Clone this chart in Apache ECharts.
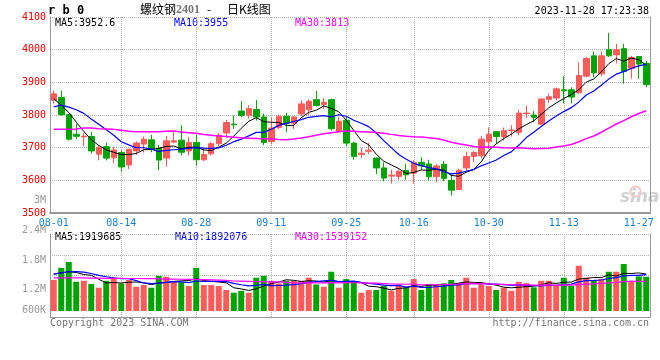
<!DOCTYPE html>
<html><head><meta charset="utf-8">
<script src="https://cdn.jsdelivr.net/npm/echarts@6/dist/echarts.min.js"></script>
<style>html,body{margin:0;padding:0;background:#fff}#c{width:660px;height:360px}</style>
</head><body><div id="c"></div>
<script>
const dates = ['08-01','08-02','08-03','08-04','08-07','08-08','08-09','08-10','08-11','08-14','08-15','08-16','08-17','08-18','08-21','08-22','08-23','08-24','08-25','08-28','08-29','08-30','08-31',
'09-01','09-04','09-05','09-06','09-07','09-08','09-11','09-12','09-13','09-14','09-15','09-18','09-19','09-20','09-21','09-22','09-25','09-26','09-27','09-28',
'10-09','10-10','10-11','10-12','10-13','10-16','10-17','10-18','10-19','10-20','10-23','10-24','10-25','10-26','10-27','10-30','10-31',
'11-01','11-02','11-03','11-06','11-07','11-08','11-09','11-10','11-13','11-14','11-15','11-16','11-17','11-20','11-21','11-22','11-23','11-24','11-27','11-28'];

const opens  = [3845,3854,3801,3741,3733,3734,3680,3703,3669,3685,3647,3690,3711,3724,3698,3668,3717,3723,3690,3716,3663,3681,3712,3745,3772,3812,3799,3817,3794,3719,3762,3796,3775,3803,3816,3847,3832,3847,3750,3784,3714,3679,3689,3668,3638,3613,3612,3630,3622,3655,3650,3611,3649,3600,3572,3638,3673,3675,3718,3749,3734,3752,3747,3804,3800,3772,3848,3852,3877,3877,3868,3919,3981,3926,4000,3984,4003,3943,3979,3958];
const closes = [3865,3801,3726,3735,3735,3690,3700,3668,3693,3641,3695,3714,3726,3695,3662,3721,3721,3686,3716,3663,3679,3712,3738,3777,3770,3799,3820,3794,3716,3760,3796,3775,3794,3834,3842,3829,3839,3758,3781,3714,3673,3683,3692,3638,3607,3616,3627,3617,3654,3644,3611,3644,3606,3570,3631,3673,3685,3726,3741,3734,3752,3754,3806,3806,3793,3849,3856,3880,3874,3855,3921,3973,3929,3981,3981,4000,3933,3976,3956,3893];
const highs  = [3875,3874,3803,3773,3745,3748,3708,3715,3702,3692,3697,3719,3734,3739,3708,3736,3754,3768,3733,3740,3700,3718,3745,3785,3799,3843,3830,3846,3804,3792,3802,3806,3796,3845,3848,3874,3852,3850,3794,3794,3716,3699,3714,3670,3655,3633,3633,3650,3662,3670,3663,3650,3659,3618,3636,3688,3690,3735,3762,3750,3762,3769,3816,3829,3812,3852,3865,3884,3918,3885,3961,3978,3994,3994,4051,4018,4018,3981,3981,3966];
const lows   = [3835,3798,3722,3727,3705,3682,3661,3661,3652,3628,3635,3678,3685,3686,3632,3642,3713,3676,3677,3646,3659,3676,3705,3730,3757,3794,3789,3783,3708,3710,3757,3747,3757,3797,3801,3826,3818,3753,3747,3704,3663,3668,3681,3619,3597,3590,3602,3602,3590,3632,3600,3594,3598,3554,3570,3628,3656,3667,3695,3711,3721,3734,3738,3790,3778,3768,3837,3845,3836,3836,3865,3916,3916,3918,3978,3958,3896,3911,3911,3885];

const ma5  = [3850,3830,3808,3778,3750,3724,3707,3693,3686,3678.4,3679.4,3682.2,3693.8,3694.2,3698.4,3703.6,3705,3697,3701.2,3701.4,3693,3691.2,3701.6,3713.8,3735.2,3759.2,3780.8,3792,3779.8,3777.8,3777.2,3768.2,3768.2,3791.8,3808.2,3814.8,3827.6,3820.4,3809.8,3784.2,3753,3721.8,3708.6,3680,3658.6,3647.2,3636,3621,3624.2,3631.6,3630.6,3634,3631.8,3615,3612.4,3624.8,3633,3657,3691.2,3711.8,3727.6,3741.4,3757.4,3770.4,3782.2,3801.6,3822,3836.8,3850.4,3862.8,3877.2,3900.6,3910.4,3931.8,3957,3972.8,3964.8,3974.2,3969.2,3952.6];
const ma10 = [3825,3830,3824,3816,3805,3788,3772,3755,3738,3718,3708.4,3699.7,3699.7,3695.7,3688.4,3691.5,3693.6,3695.4,3697.7,3699.9,3698.3,3698.1,3699.3,3707.5,3718.3,3726.1,3736,3746.8,3746.8,3756.5,3768.2,3774.5,3780.1,3785.8,3793,3796,3797.9,3794.3,3800.8,3796.2,3783.9,3774.7,3764.5,3744.9,3721.4,3700.1,3678.9,3664.8,3652.1,3645.1,3638.9,3635,3626.4,3619.6,3622,3627.7,3633.5,3644.4,3653.1,3662.1,3676.2,3687.2,3707.2,3730.8,3747,3764.6,3781.7,3797.1,3810.4,3822.5,3839.4,3861.3,3873.6,3891.1,3909.9,3925,3932.7,3942.3,3950.5,3955];
const ma30 = [3756,3756,3756,3757,3760,3760,3758,3757,3756,3753,3750,3749,3749,3749,3749,3750,3751,3748,3746,3744,3740,3738,3736,3734,3732,3730,3729,3728,3727,3727.3,3725,3724.1,3726.4,3729.7,3733.2,3737.9,3742.5,3745.5,3748.4,3750.9,3750.1,3749.1,3748,3746.1,3744.2,3740.7,3737.6,3735.3,3733.2,3732.6,3730.3,3728.1,3723.7,3716.8,3712.1,3707.9,3703.4,3701.2,3702,3701.1,3699.7,3699,3699.4,3698.4,3696.8,3697.5,3698,3702.1,3705.2,3709.9,3718.2,3727.8,3735.7,3747.2,3759.6,3772.4,3782.6,3794.6,3804.7,3813];

const volumes = [1610000,2240000,2550000,1520000,1570000,1400000,1210000,1570000,1660000,1430000,1610000,1260000,1350000,1210000,1830000,1780000,1520000,1490000,1300000,2240000,1350000,1350000,1300000,1090000,950000,1050000,950000,1730000,1830000,1570000,1430000,1570000,1560000,1560000,1730000,1380000,1260000,2040000,1210000,1660000,1520000,950000,1090000,1090000,1300000,1050000,1350000,1230000,1660000,1090000,1400000,1350000,1430000,1610000,1450000,1730000,1210000,1380000,1300000,1090000,1210000,1050000,1520000,1450000,1230000,1570000,1570000,1350000,1730000,1300000,2350000,1730000,1610000,1660000,2040000,2040000,2440000,1570000,1800000,1780000];
const vma5  = [1920000,1980000,2040000,2000000,1898000,1856000,1650000,1454000,1482000,1454000,1496000,1506000,1462000,1372000,1452000,1486000,1538000,1566000,1584000,1666000,1580000,1546000,1508000,1466000,1208000,1148000,1068000,1154000,1302000,1426000,1502000,1626000,1592000,1538000,1570000,1560000,1498000,1594000,1524000,1510000,1538000,1476000,1286000,1262000,1190000,1096000,1176000,1204000,1318000,1276000,1346000,1346000,1386000,1376000,1448000,1514000,1486000,1476000,1414000,1342000,1238000,1206000,1234000,1264000,1292000,1364000,1468000,1434000,1490000,1504000,1660000,1692000,1744000,1730000,1878000,1816000,1958000,1950000,1978000,1919685];
const vma10 = [1920000,1980000,2040000,2050000,2020000,1950000,1850000,1780000,1720000,1676000,1676000,1578000,1458000,1427000,1453000,1491000,1522000,1514000,1478000,1559000,1533000,1542000,1537000,1525000,1437000,1364000,1307000,1331000,1384000,1317000,1325000,1347000,1373000,1420000,1498000,1531000,1562000,1593000,1531000,1540000,1549000,1487000,1440000,1393000,1350000,1317000,1326000,1245000,1290000,1233000,1221000,1261000,1295000,1347000,1362000,1430000,1416000,1431000,1395000,1395000,1376000,1346000,1355000,1339000,1317000,1301000,1337000,1334000,1377000,1398000,1512000,1580000,1589000,1610000,1691000,1738000,1825000,1847000,1854000,1892076];
const vma30 = [1720000,1720000,1720000,1720000,1720000,1710000,1710000,1700000,1700000,1700000,1690000,1690000,1680000,1680000,1670000,1660000,1660000,1650000,1640000,1640000,1630000,1620000,1610000,1590000,1560000,1550000,1540000,1530000,1530000,1517000,1511000,1489000,1456000,1457000,1463000,1462000,1464000,1479000,1464000,1472000,1469000,1459000,1450000,1446000,1428000,1404000,1398000,1390000,1402000,1363000,1365000,1365000,1369000,1387000,1403000,1426000,1435000,1423000,1405000,1389000,1382000,1365000,1363000,1360000,1343000,1349000,1360000,1337000,1354000,1342000,1370000,1396000,1413000,1432000,1457000,1490000,1526000,1537000,1542000,1539152];

const xLabelDates = ['08-01','08-14','08-28','09-11','09-25','10-16','10-30','11-13','11-27'];
const xGridDates  = ['08-14','08-28','09-11','09-25','10-16','10-30','11-13'];
const priceTicks = [3500,3600,3700,3800,3900,4000,4100];
const volTickValues = [600000,1200000,1800000,2400000,3000000];
const volTickLabels = ['600K','1.2M','1.8M','2.4M','3M'];

const UP = '#ff5b5b', DOWN = '#00a300';
const MONO = '"DejaVu Sans Mono", "Liberation Mono", monospace';
const GRID_C = '#b0b0b0', BORDER_C = '#999';

const chart = echarts.init(document.getElementById('c'), null, {renderer:'canvas'});

const candleData = dates.map((d,i)=>[opens[i], closes[i], lows[i], highs[i]]);
const volData = volumes.map((v,i)=>({value:v, itemStyle:{color: closes[i]>=opens[i]?UP:DOWN}}));

function txt(text, pos, color, font){
  return Object.assign({type:'text', silent:true, style:{text:text, fill:color, font:font}}, pos);
}

const option = {
  animation:false,
  backgroundColor:'#fff',
  grid:[
    {left:50, right:10, top:17, height:196, outerBoundsMode:'none'},
    {left:50, right:10, top:234, height:83, outerBoundsMode:'none'},
    {left:50, right:10, top:200.5, height:119.2, outerBoundsMode:'none'}
  ],
  xAxis:[
    {type:'category', gridIndex:0, data:dates, boundaryGap:true,
     axisLine:{show:true, onZero:false, lineStyle:{color:BORDER_C, width:2}},
     axisTick:{show:false},
     axisLabel:{interval:(i,v)=>xLabelDates.indexOf(v)>=0, color:'#1a7fd0', fontFamily:MONO, fontSize:10, margin:5},
     splitLine:{show:true, interval:(i,v)=>xGridDates.indexOf(v)>=0, alignWithLabel:true, lineStyle:{color:GRID_C, type:'dotted', width:1}}},
    {type:'category', gridIndex:1, data:dates, boundaryGap:true,
     axisLine:{show:true, onZero:false, lineStyle:{color:BORDER_C, width:1}},
     axisTick:{show:false}, axisLabel:{show:false},
     splitLine:{show:true, interval:(i,v)=>xGridDates.indexOf(v)>=0, alignWithLabel:true, lineStyle:{color:GRID_C, type:'dotted', width:1}}},
    {type:'value', gridIndex:2, show:false}
  ],
  yAxis:[
    {type:'value', gridIndex:0, position:'left', min:priceTicks[0], max:priceTicks[priceTicks.length-1], interval:priceTicks[1]-priceTicks[0],
     axisLine:{show:true, lineStyle:{color:BORDER_C}}, axisTick:{show:false},
     axisLabel:{color:'#e00000', fontFamily:MONO, fontSize:10, margin:4, formatter:(v)=>String(v)},
     splitLine:{show:true, lineStyle:{color:GRID_C, type:'dotted', width:1}}},
    {type:'value', gridIndex:0, position:'right', min:priceTicks[0], max:priceTicks[priceTicks.length-1],
     axisLine:{show:true, lineStyle:{color:BORDER_C}}, axisTick:{show:false}, axisLabel:{show:false}, splitLine:{show:false}},
    {type:'value', gridIndex:1, min:-310000, max:4000000, show:false, splitLine:{show:false}},
    {type:'value', gridIndex:1, position:'left', min:0, max:4, interval:1,
     axisLine:{show:true, lineStyle:{color:BORDER_C}}, axisTick:{show:false}, axisLabel:{show:false},
     splitLine:{show:true, lineStyle:{color:GRID_C, type:'dotted', width:1}}},
    {type:'value', gridIndex:1, position:'right', min:0, max:4,
     axisLine:{show:true, lineStyle:{color:BORDER_C}}, axisTick:{show:false}, axisLabel:{show:false}, splitLine:{show:false}},
    {type:'value', gridIndex:2, position:'left', min:volTickValues[0], max:volTickValues[volTickValues.length-1], interval:volTickValues[1]-volTickValues[0],
     axisLine:{show:false}, axisTick:{show:false}, splitLine:{show:false},
     axisLabel:{color:'#999', fontFamily:MONO, fontSize:10, margin:4,
       formatter:(v)=>{const k=volTickValues.indexOf(v); if(k<0) return ''; return k===0?'{lo|'+volTickLabels[k]+'}':volTickLabels[k];},
       rich:{lo:{color:'#999', fontFamily:MONO, fontSize:10, padding:[0,0,19,0]}}}}
  ],
  series:[
    {type:'candlestick', name:'K', xAxisIndex:0, yAxisIndex:0, data:candleData, barWidth:6,
     itemStyle:{color:UP, color0:DOWN, borderColor:UP, borderColor0:DOWN, borderWidth:1}},
    {type:'line', name:'MA5', xAxisIndex:0, yAxisIndex:0, data:ma5, symbol:'none', silent:true, lineStyle:{color:'#000', width:1}},
    {type:'line', name:'MA10', xAxisIndex:0, yAxisIndex:0, data:ma10, symbol:'none', silent:true, lineStyle:{color:'#0000ff', width:1.2}},
    {type:'line', name:'MA30', xAxisIndex:0, yAxisIndex:0, data:ma30, symbol:'none', silent:true, lineStyle:{color:'#ff00ff', width:1.5}},
    {type:'bar', name:'VOL', xAxisIndex:1, yAxisIndex:2, data:volData, barWidth:6},
    {type:'line', name:'VMA5', xAxisIndex:1, yAxisIndex:2, data:vma5, symbol:'none', silent:true, lineStyle:{color:'#000', width:1}},
    {type:'line', name:'VMA10', xAxisIndex:1, yAxisIndex:2, data:vma10, symbol:'none', silent:true, lineStyle:{color:'#0000ff', width:1.2}},
    {type:'line', name:'VMA30', xAxisIndex:1, yAxisIndex:2, data:vma30, symbol:'none', silent:true, lineStyle:{color:'#ff00ff', width:1.2}}
  ],
  graphic:[
    txt('r b 0', {left:48, top:5}, '#000', 'bold 12px ' + MONO),
    txt('螺纹钢', {left:140, top:3}, '#000', '12px "Noto Sans CJK SC"'),
    txt('2401', {left:176, top:4}, '#777', 'bold 12px "Liberation Serif"'),
    txt('-', {left:207, top:3}, '#000', '12px "Noto Sans CJK SC"'),
    txt('日K线图', {left:227, top:3}, '#000', '12px "Noto Sans CJK SC"'),
    txt('2023-11-28 17:23:38', {right:11, top:6}, '#000', '10px ' + MONO),
    txt('MA5:3952.6', {left:55, top:18}, '#000', '10px ' + MONO),
    txt('MA10:3955', {left:174, top:18}, '#0000ff', '10px ' + MONO),
    txt('MA30:3813', {left:295, top:18}, '#ff00ff', '10px ' + MONO),
    txt('MA5:1919685', {left:55, top:232}, '#000', '10px ' + MONO),
    txt('MA10:1892076', {left:175, top:232}, '#0000ff', '10px ' + MONO),
    txt('MA30:1539152', {left:295, top:232}, '#ff00ff', '10px ' + MONO),
    txt('Copyright 2023 SINA.COM', {left:50, top:318}, '#777', '10px ' + MONO),
    txt('http://finance.sina.com.cn', {right:11, top:318}, '#777', '10px ' + MONO),
    txt('sina', {left:620, top:189}, '#d2d2d2', 'italic bold 17px "DejaVu Sans"'),
    {type:'circle', silent:true, left:628, top:184, shape:{r:5}, style:{fill:'none', stroke:'#f0c8c8', lineWidth:2}}
  ]
};
chart.setOption(option);
</script>
</body></html>
